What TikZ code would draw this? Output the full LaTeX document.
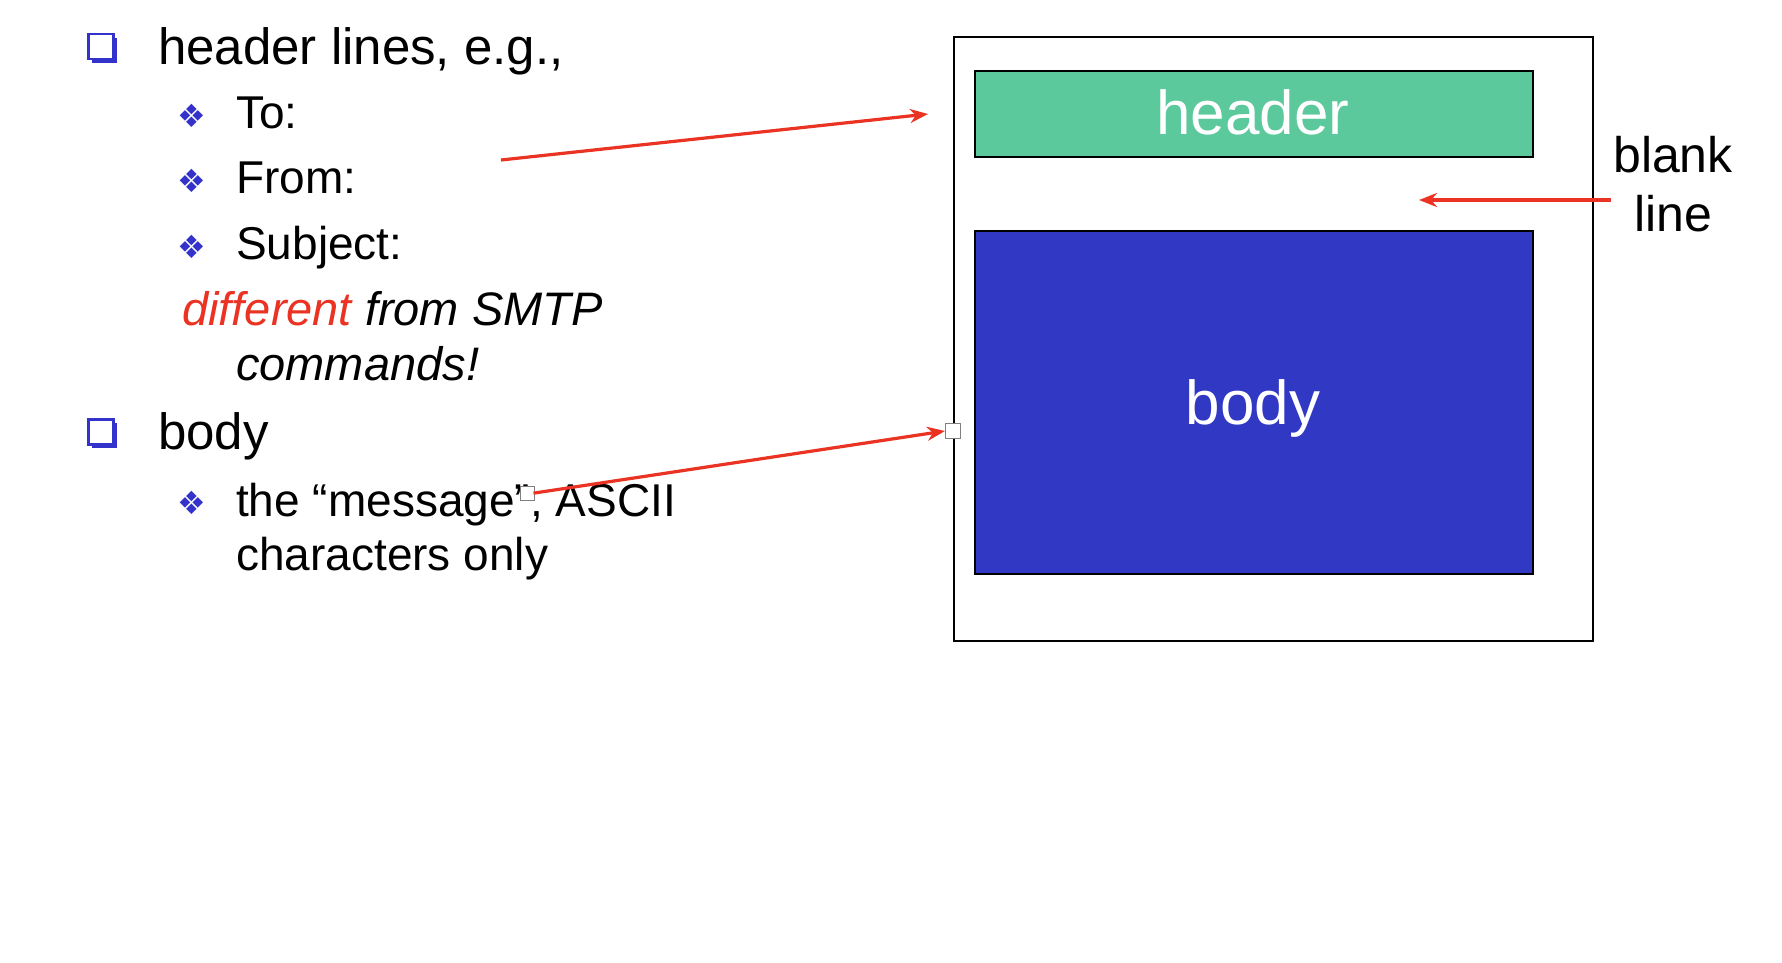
\documentclass[tikz,border=0pt]{standalone}
\usepackage{fontspec}
\setmainfont{Liberation Sans}
\newfontfamily\symfont{DejaVu Sans}
\usetikzlibrary{arrows.meta,shadows}
\definecolor{bblue}{RGB}{51,51,204}
\definecolor{hgreen}{RGB}{91,201,155}
\definecolor{bodyblue}{RGB}{49,57,196}
\definecolor{ared}{RGB}{234,51,35}
\begin{document}
\begin{tikzpicture}[x=1pt,y=-1pt,
  txt/.style={anchor=base west, inner sep=0pt, font=\fontsize{51}{60}\selectfont},
  sub/.style={anchor=base west, inner sep=0pt, font=\fontsize{46}{54}\selectfont},
  subit/.style={anchor=base west, inner sep=0pt, font=\fontsize{47}{54}\selectfont\itshape},
  sqb/.style={draw=bblue, line width=2.5pt, fill=white, minimum size=25pt, inner sep=0pt,
    general shadow={fill=bblue, shadow xshift=3.5pt, shadow yshift=-3.5pt}},
  dmb/.style={inner sep=0pt, text=bblue, font=\symfont\fontsize{32}{32}\selectfont},
  box/.style={draw=black, line width=2pt, inner sep=0pt},
  redarrow/.style={draw=ared, line width=3.2pt, -{Stealth[length=18pt,width=14pt]}},
  handle/.style={draw=gray, fill=white, line width=1pt, minimum size=14pt, inner sep=0pt}]
\useasboundingbox (0,0) rectangle (1782,962);
\fill[white] (0,0) rectangle (1782,962);

% right-hand message
\node[box, minimum width=638.6pt, minimum height=604pt] (outer) at (1273.3,339) {};
\node[box, fill=hgreen, minimum width=557.6pt, minimum height=86pt] (hdr) at (1253.8,114) {};
\node[box, fill=bodyblue, minimum width=557.6pt, minimum height=343.4pt] (bdy) at (1253.8,402.6) {};
\node[anchor=base, inner sep=0pt, text=white, font=\fontsize{62}{70}\selectfont] (hdrtxt) at (1253,134) {header};
\node[anchor=base, inner sep=0pt, text=white, font=\fontsize{62}{70}\selectfont] (bdytxt) at (1253,424) {body};
\node[anchor=base, inner sep=0pt, font=\fontsize{50}{60}\selectfont] (blank) at (1673,172) {blank};
\node[anchor=base, inner sep=0pt, font=\fontsize{50}{60}\selectfont] (line) at (1673,231) {line};

% left text
\node[sqb] (b1) at (101,46.5) {};
\node[txt] (hl) at (158,64) {header lines, e.g.,};
\node[dmb] (d1) at (192,116) {❖};
\node[sub] (to) at (236,128) {To:};
\node[dmb] (d2) at (192,181) {❖};
\node[sub] (from) at (236,193) {From:};
\node[dmb] (d3) at (192,247) {❖};
\node[sub] (subj) at (236,259) {Subject:};
\node[subit] (diff) at (182,325) {\textcolor{ared}{different} from SMTP};
\node[subit] (cmd) at (236,380) {commands!};
\node[sqb] (b2) at (101,432) {};
\node[txt] (body) at (158,449) {body};
\node[dmb] (d4) at (192,503) {❖};
\node[sub] (msg) at (236,516) {the “message”, ASCII};
\node[sub] (chars) at (236,570) {characters only};

% connectors
\coordinate (a1s) at (501,160);
\coordinate (a1e) at (928,114);
\draw[redarrow] (a1s) -- (a1e);
\coordinate (a2s) at (1611,200);
\coordinate (a2e) at (1419,200);
\draw[redarrow] (a2s) -- (a2e);
\node[handle] (h1) at (527,493) {};
\node[handle, minimum size=15pt] (h2) at (953,431) {};
\draw[redarrow, shorten <=-1pt] (h1.east) -- (h2.west);
\end{tikzpicture}
\end{document}
